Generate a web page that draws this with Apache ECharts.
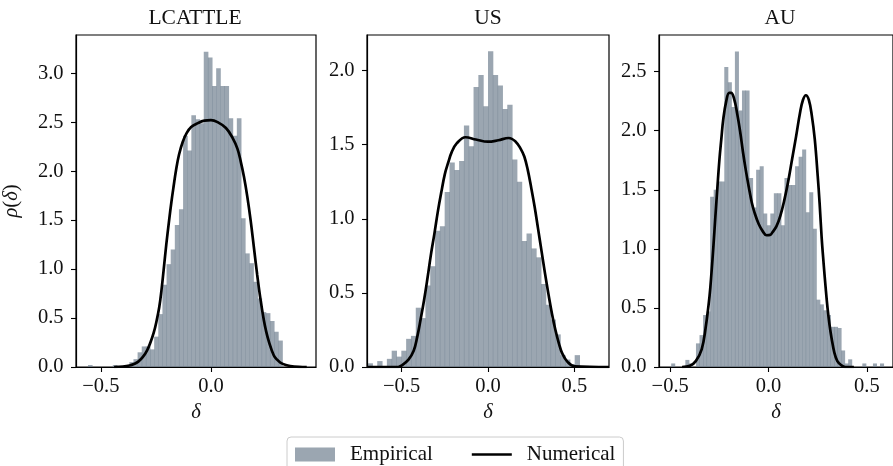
<!DOCTYPE html>
<html>
<head>
<meta charset="utf-8">
<script src="https://cdn.jsdelivr.net/npm/echarts@6/dist/echarts.min.js"></script>
<style>
  html, body { margin: 0; padding: 0; background: #ffffff; }
  #chart { width: 893px; height: 466px; }
</style>
</head>
<body>
<div id="chart"></div>
<script>
// ---- data -----------------------------------------------------------------
const panelTitles = ['LCATTLE', 'US', 'AU'];
const seriesNames = ['Empirical', 'Numerical'];

// Empirical histograms: left edge of first bin, bin width, density per bin
const lcattleBinStart = -0.5586;
const lcattleBinWidth = 0.01878;
const lcattleDensity = [
  0.02, 0, 0, 0, 0, 0, 0.02, 0, 0, 0,
  0.05, 0.08, 0.15, 0.21, 0.21, 0.18, 0.31, 0.54, 0.84, 1.05,
  1.20, 1.45, 1.61, 2.36, 2.21, 2.57, 2.53, 2.49, 3.22, 3.16,
  2.87, 3.05, 2.87, 2.87, 2.54, 2.36, 2.54, 1.52, 1.16, 1.06,
  0.87, 0.70, 0.56, 0.55, 0.47, 0.36, 0.27
];

const usBinStart = -0.6965;
const usBinWidth = 0.02786;
const usDensity = [
  0.025, 0, 0.04, 0, 0.055, 0.11, 0.07, 0.11, 0.19, 0.21,
  0.40, 0.33, 0.55, 0.68, 0.92, 0.95, 1.18, 1.38, 1.33, 1.39,
  1.63, 1.49, 1.89, 1.97, 1.76, 2.13, 1.97, 1.90, 1.74, 1.77,
  1.40, 1.25, 0.85, 0.90, 0.80, 0.74, 0.56, 0.42, 0.32, 0.22,
  0.08, 0.05, 0.02, 0.08
];

const auBinStart = -0.495;
const auBinWidth = 0.018;
const auDensity = [
  0.03, 0, 0, 0, 0.06, 0.03, 0, 0.20, 0.27, 0.44,
  0.47, 1.44, 1.50, 1.57, 1.57, 2.54, 2.41, 2.20, 2.67, 2.17,
  2.34, 2.34, 1.60, 1.35, 1.67, 1.70, 1.30, 1.20, 1.30, 1.47,
  1.47, 1.20, 1.60, 1.54, 1.54, 1.70, 1.78, 1.84, 1.31, 1.48,
  1.17, 0.57, 0.53, 0.48, 0.44, 0.34, 0.34, 0.33, 0.14, 0.03,
  0.065, 0, 0, 0, 0.03, 0, 0, 0.03, 0, 0.03
];

// Numerical density curves
const lcattleCurveX = [
  -0.44, -0.40, -0.37, -0.35, -0.33, -0.31, -0.29, -0.275, -0.26, -0.248,
  -0.235, -0.225, -0.215, -0.203, -0.19, -0.18, -0.17, -0.158, -0.145, -0.128,
  -0.11, -0.09, -0.06, -0.03, 0, 0.03, 0.068, 0.098, 0.12, 0.135,
  0.15, 0.165, 0.18, 0.195, 0.21, 0.225, 0.24, 0.25, 0.263, 0.285,
  0.30, 0.315, 0.34, 0.36, 0.40, 0.435
];
const lcattleCurveY = [
  0, 0.005, 0.015, 0.03, 0.055, 0.10, 0.17, 0.25, 0.35, 0.46,
  0.61, 0.78, 0.99, 1.25, 1.50, 1.68, 1.84, 2.02, 2.17, 2.30,
  2.39, 2.45, 2.49, 2.515, 2.52, 2.50, 2.44, 2.34, 2.23, 2.10,
  1.94, 1.74, 1.50, 1.22, 0.94, 0.69, 0.48, 0.37, 0.26, 0.12,
  0.075, 0.045, 0.02, 0.01, 0.002, 0
];

const usCurveX = [
  -0.70, -0.52, -0.50, -0.46, -0.43, -0.41, -0.39, -0.37, -0.35, -0.33,
  -0.31, -0.29, -0.27, -0.25, -0.23, -0.21, -0.18, -0.13, -0.07, 0,
  0.06, 0.12, 0.16, 0.19, 0.21, 0.23, 0.25, 0.27, 0.29, 0.31,
  0.33, 0.35, 0.37, 0.39, 0.41, 0.43, 0.46, 0.50, 0.70
];
const usCurveY = [
  0, 0, 0.01, 0.05, 0.11, 0.20, 0.32, 0.45, 0.60, 0.76,
  0.90, 1.05, 1.18, 1.30, 1.38, 1.45, 1.51, 1.55, 1.535, 1.52,
  1.53, 1.545, 1.52, 1.47, 1.42, 1.33, 1.21, 1.08, 0.93, 0.78,
  0.63, 0.49, 0.36, 0.25, 0.16, 0.09, 0.035, 0.005, 0
];

const auCurveX = [
  -0.44, -0.40, -0.37, -0.34, -0.32, -0.30, -0.29, -0.28, -0.27, -0.26,
  -0.25, -0.24, -0.23, -0.215, -0.20, -0.19, -0.175, -0.16, -0.145, -0.13,
  -0.115, -0.10, -0.085, -0.07, -0.05, -0.03, -0.01, 0.01, 0.02, 0.04,
  0.06, 0.08, 0.10, 0.12, 0.14, 0.16, 0.175, 0.19, 0.205, 0.22,
  0.235, 0.25, 0.26, 0.27, 0.28, 0.29, 0.30, 0.31, 0.32, 0.335,
  0.35, 0.37, 0.39, 0.434
];
const auCurveY = [
  0, 0.01, 0.05, 0.15, 0.33, 0.60, 0.80, 1.03, 1.28, 1.52,
  1.75, 1.93, 2.10, 2.25, 2.32, 2.32, 2.27, 2.15, 2.00, 1.82,
  1.66, 1.52, 1.39, 1.30, 1.21, 1.15, 1.115, 1.12, 1.14, 1.19,
  1.28, 1.41, 1.57, 1.76, 1.95, 2.15, 2.26, 2.30, 2.26, 2.13,
  1.93, 1.62, 1.38, 1.10, 0.88, 0.68, 0.50, 0.36, 0.25, 0.12,
  0.05, 0.015, 0, 0
];

// Axis ranges and tick values
const lcattleXRange = [-0.613, 0.477];
const usXRange = [-0.70, 0.70];
const auXRange = [-0.557, 0.633];
const lcattleYMax = 3.39;
const usYMax = 2.24;
const auYMax = 2.81;

const lcattleXTicks = [-0.5, 0.0];
const usXTicks = [-0.5, 0.0, 0.5];
const auXTicks = [-0.5, 0.0, 0.5];
const lcattleYTicks = [0, 0.5, 1.0, 1.5, 2.0, 2.5, 3.0];
const usYTicks = [0, 0.5, 1.0, 1.5, 2.0];
const auYTicks = [0, 0.5, 1.0, 1.5, 2.0, 2.5];

// ---- chart ----------------------------------------------------------------
const FONT = '"Liberation Serif", "DejaVu Serif", serif';
const TICK_SIZE = 20.5;
const TITLE_SIZE = 21.5;
const LEGEND_SIZE = 21;
const TEXT = '#111111';
const BAR_FILL = 'rgba(112,128,144,0.7)';
const GRID_LEFT = [74, 367, 659];
const GRID_TOP = 35;
const GRID_W = 242;
const GRID_H = 332;

const panels = [
  { title: panelTitles[0], binStart: lcattleBinStart, binWidth: lcattleBinWidth, density: lcattleDensity,
    curveX: lcattleCurveX, curveY: lcattleCurveY, xRange: lcattleXRange, yMax: lcattleYMax,
    xTicks: lcattleXTicks, yTicks: lcattleYTicks },
  { title: panelTitles[1], binStart: usBinStart, binWidth: usBinWidth, density: usDensity,
    curveX: usCurveX, curveY: usCurveY, xRange: usXRange, yMax: usYMax,
    xTicks: usXTicks, yTicks: usYTicks },
  { title: panelTitles[2], binStart: auBinStart, binWidth: auBinWidth, density: auDensity,
    curveX: auCurveX, curveY: auCurveY, xRange: auXRange, yMax: auYMax,
    xTicks: auXTicks, yTicks: auYTicks }
];

function tickText(v) {
  const s = Math.abs(v).toFixed(1);
  return v < -1e-9 ? '\u2212' + s : s;
}

// One histogram bar per data item: [left edge, right edge, density]
function renderBin(params, api) {
  const h = api.value(2);
  if (!(h > 0)) return null;
  const topLeft = api.coord([api.value(0), h]);
  const bottomRight = api.coord([api.value(1), 0]);
  const cs = params.coordSys;
  const rect = echarts.graphic.clipRectByRect(
    { x: topLeft[0], y: topLeft[1], width: bottomRight[0] - topLeft[0] + 0.5, height: bottomRight[1] - topLeft[1] },
    { x: cs.x, y: cs.y, width: cs.width, height: cs.height }
  );
  if (!rect) return null;
  return { type: 'rect', shape: rect, style: { fill: BAR_FILL } };
}

const grids = [], xAxes = [], yAxes = [], series = [], titles = [];

panels.forEach((p, i) => {
  grids.push({
    left: GRID_LEFT[i], top: GRID_TOP, width: GRID_W, height: GRID_H,
    show: true, borderColor: '#000', borderWidth: 1.2, backgroundColor: 'transparent',
    containLabel: false
  });

  xAxes.push({
    type: 'value', gridIndex: i, min: p.xRange[0], max: p.xRange[1], z: 10,
    name: 'δ', nameLocation: 'middle', nameGap: 33,
    nameTextStyle: { fontFamily: FONT, fontSize: TICK_SIZE, fontStyle: 'italic', color: TEXT },
    axisLine: { show: true, onZero: false, lineStyle: { color: '#000', width: 1.2 } },
    axisTick: { show: true, inside: false, length: 5, customValues: p.xTicks, lineStyle: { color: '#000', width: 1.1 } },
    axisLabel: { customValues: p.xTicks, formatter: tickText, margin: 9.5,
                 fontFamily: FONT, fontSize: TICK_SIZE, color: TEXT },
    splitLine: { show: false }
  });

  const yAxis = {
    type: 'value', gridIndex: i, min: 0, max: p.yMax, z: 10,
    axisLine: { show: true, onZero: false, lineStyle: { color: '#000', width: 1.2 } },
    axisTick: { show: true, inside: false, length: 5, customValues: p.yTicks, lineStyle: { color: '#000', width: 1.1 } },
    axisLabel: { customValues: p.yTicks, formatter: tickText, margin: 12.5,
                 fontFamily: FONT, fontSize: TICK_SIZE, color: TEXT },
    splitLine: { show: false }
  };
  if (i === 0) {
    Object.assign(yAxis, {
      name: '{i|ρ}({i|δ})', nameLocation: 'middle', nameRotate: 90, nameGap: 54,
      nameTextStyle: {
        fontFamily: FONT, fontSize: TICK_SIZE, color: TEXT,
        rich: { i: { fontFamily: FONT, fontSize: TICK_SIZE, fontStyle: 'italic', color: TEXT } }
      }
    });
  }
  yAxes.push(yAxis);

  const bins = p.density.map((d, k) => [
    p.binStart + k * p.binWidth,
    p.binStart + (k + 1) * p.binWidth,
    d
  ]);
  series.push({
    type: 'custom', name: seriesNames[0], xAxisIndex: i, yAxisIndex: i,
    renderItem: renderBin, data: bins, encode: { x: [0, 1], y: 2 },
    itemStyle: { color: BAR_FILL }, clip: true, z: 1, silent: true
  });

  series.push({
    type: 'line', name: seriesNames[1], xAxisIndex: i, yAxisIndex: i,
    data: p.curveX.map((x, k) => [x, p.curveY[k]]),
    symbol: 'none', showSymbol: false, smooth: 0.4,
    lineStyle: { color: '#000', width: 2.7 }, itemStyle: { color: '#000' },
    clip: true, z: 3, silent: true
  });

  titles.push({
    type: 'text', x: GRID_LEFT[i] + GRID_W / 2, y: 18,
    style: { text: p.title, fontFamily: FONT, fontSize: TITLE_SIZE, fill: TEXT,
             align: 'center', verticalAlign: 'middle' }
  });
});

const chart = echarts.init(document.getElementById('chart'), null, { renderer: 'canvas' });
chart.setOption({
  animation: false,
  backgroundColor: '#ffffff',
  grid: grids,
  xAxis: xAxes,
  yAxis: yAxes,
  series: series,
  graphic: titles,
  legend: {
    left: 287, top: 437, orient: 'horizontal',
    padding: [7, 8, 7, 8], itemGap: 39, itemWidth: 40, itemHeight: 14,
    borderColor: '#cccccc', borderWidth: 1, borderRadius: 4,
    backgroundColor: 'rgba(255,255,255,0.8)',
    selectedMode: false,
    itemStyle: { borderWidth: 0 },
    textStyle: { fontFamily: FONT, fontSize: LEGEND_SIZE, color: TEXT, padding: [0, 0, 0, 10] },
    data: [
      { name: seriesNames[0], icon: 'rect' },
      { name: seriesNames[1], icon: 'path://M0,0H42V2.6H0Z' }
    ]
  }
});
</script>
</body>
</html>
